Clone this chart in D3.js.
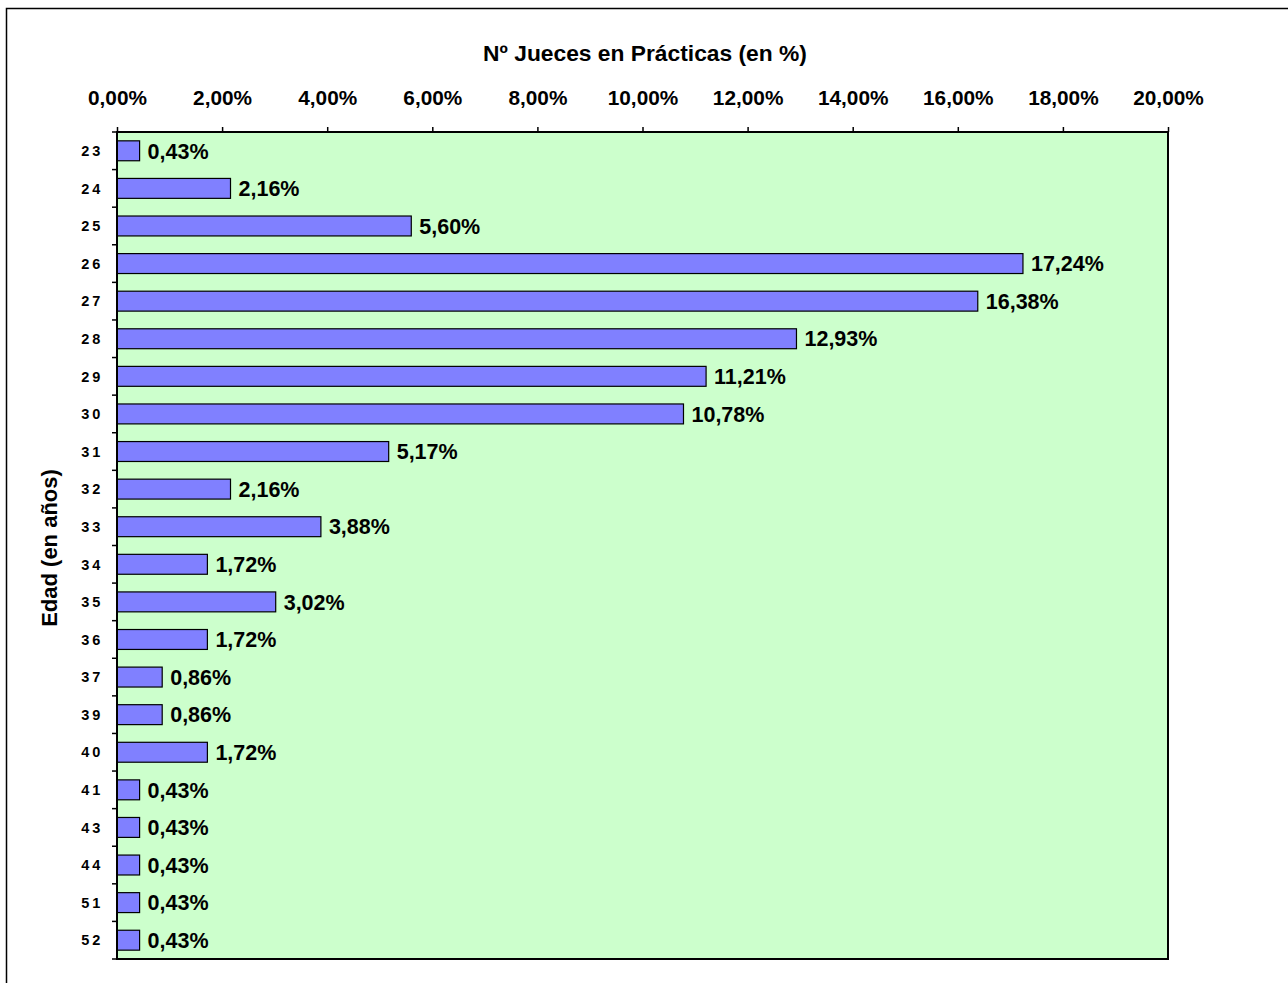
<!DOCTYPE html>
<html><head><meta charset="utf-8">
<script src="https://cdn.jsdelivr.net/npm/d3@7"></script>
<style>body{margin:0;background:#fff}svg{display:block}text{font-family:Arial,"Liberation Sans",sans-serif;font-weight:bold}</style>
</head><body>
<svg id="c" width="1288" height="983"></svg>
<script>
const categories = ["23","24","25","26","27","28","29","30","31","32","33","34","35","36","37","39","40","41","43","44","51","52"];
const values = [0.43,2.16,5.60,17.24,16.38,12.93,11.21,10.78,5.17,2.16,3.88,1.72,3.02,1.72,0.86,0.86,1.72,0.43,0.43,0.43,0.43,0.43];
const xTicks = [0,2,4,6,8,10,12,14,16,18,20];
const fmt = v => v.toFixed(2).replace(".", ",") + "%";

const svg = d3.select("#c");
const L = 117, T = 132, R = 1168, B = 959;
// outer frame
svg.append("rect").attr("x",6.5).attr("y",8.5).attr("width",1400).attr("height",1400)
  .attr("fill","#fff").attr("stroke","#000").attr("stroke-width",1.5);

const x = d3.scaleLinear().domain([0,20]).range([L,R]);
const y = d3.scaleBand().domain(categories).range([T,B]).paddingInner(0.47).paddingOuter(0.235);

svg.append("rect").attr("x",L).attr("y",T).attr("width",R-L).attr("height",B-T)
  .attr("fill","#CCFFCC").attr("stroke","#000").attr("stroke-width",2);

// bars
svg.selectAll("rect.bar").data(values).join("rect").attr("class","bar")
  .attr("x",x(0)).attr("y",(d,i)=>y(categories[i]))
  .attr("width",d=>x(d)-x(0)).attr("height",y.bandwidth())
  .attr("fill","#8080FF").attr("stroke","#000").attr("stroke-width",1.2);

// data labels
svg.selectAll("text.lbl").data(values).join("text").attr("class","lbl")
  .attr("x",d=>x(d)+8).attr("y",(d,i)=>y(categories[i])+y.bandwidth()/2)
  .attr("dy","0.36em").attr("font-size",21.5).attr("fill","#000").text(fmt);

// top axis
const xa = d3.axisTop(x).tickValues(xTicks).tickSize(5).tickFormat(fmt).tickPadding(22);
const gx = svg.append("g").attr("transform",`translate(0,${T})`).call(xa);
gx.select(".domain").remove();
gx.selectAll(".tick line").attr("stroke","#000").attr("stroke-width",1.5);
gx.selectAll(".tick text").attr("font-size",20.8).attr("fill","#000").attr("font-family","Arial, 'Liberation Sans', sans-serif").attr("font-weight","bold");

// left axis ticks at boundaries
const bounds = d3.range(categories.length+1).map(i => T + i*(B-T)/categories.length);
svg.selectAll("line.yt").data(bounds).join("line").attr("class","yt")
  .attr("x1",L-5).attr("x2",L).attr("y1",d=>d).attr("y2",d=>d)
  .attr("stroke","#000").attr("stroke-width",1.5);
svg.append("line").attr("x1",L).attr("x2",L).attr("y1",T).attr("y2",B).attr("stroke","#000").attr("stroke-width",2);

// category labels
svg.selectAll("text.cat").data(categories).join("text").attr("class","cat")
  .attr("x",103).attr("y",d=>y(d)+y.bandwidth()/2).attr("dy","0.36em")
  .attr("text-anchor","end").attr("font-size",14.5).attr("letter-spacing","2.8px").attr("fill","#000").text(d=>d);

// titles
svg.append("text").attr("x",645).attr("y",61).attr("text-anchor","middle").attr("font-size",22.8).text("Nº Jueces en Prácticas (en %)");
svg.append("text").attr("transform","translate(57,548) rotate(-90)").attr("text-anchor","middle").attr("font-size",22).text("Edad (en años)");
</script>
</body></html>
